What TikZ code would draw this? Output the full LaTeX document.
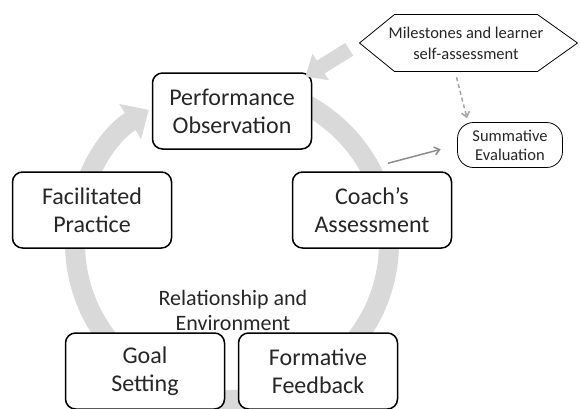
\documentclass[tikz,border=0pt]{standalone}
\usepackage{fontspec}
\setmainfont{Carlito}
\usetikzlibrary{arrows.meta}
\definecolor{ringgray}{RGB}{217,217,217}
\definecolor{inkgray}{RGB}{38,38,38}
\definecolor{arrowgray}{RGB}{140,140,140}

\begin{document}
\begin{tikzpicture}[x=1pt,y=1pt,
    stage/.style={draw, line width=1.5pt, rounded corners=10pt, fill=white, align=center,
      minimum width=159pt, minimum height=76pt, text=inkgray, font=\fontsize{24}{28}\selectfont},
    small/.style={align=center, text=inkgray, font=\fontsize{16.5}{21}\selectfont}]
      \useasboundingbox (0,0) rectangle (580,408);
      % Cycle behind the boxes
      \coordinate (c) at (232,165);
      \draw[ringgray, line width=20pt, -{Triangle[width=40pt,length=22pt]}]
        (c) ++(0,157) arc[start angle=90, end angle=-238, radius=157];
      % Define nodes
      \node[stage] (po) at (232,297) {Performance\\Observation};
      \node[stage] (fp) at (92,198)  {Facilitated\\Practice};
      \node[stage] (ca) at (372,198) {Coach’s\\Assessment};
      \node[stage] (gs) at (145,37)  {Goal\\Setting};
      \node[stage] (ff) at (318,37)  {Formative\\Feedback};
      \node[text=inkgray, align=center, font=\fontsize{22}{25}\selectfont] (re) at (233,98) {Relationship and\\Environment};
      \node[small, inner sep=0pt] (ms) at (466,365) {Milestones and learner\\self-assessment};
      \draw[line width=0.8pt] (ms.center) ++(-71.5,28.5) -- ++(143,0) -- ++(40,-28.5)
        -- ++(-40,-28.5) -- ++(-143,0) -- ++(-35,28.5) -- cycle;
      \coordinate (hl) at ([xshift=-106.5pt]ms.center);
      \coordinate (hb) at ([shift={(-11pt,-28.5pt)}]ms.center);
      \node[small, draw, line width=0.8pt, rounded corners=16pt, minimum width=105pt,
        minimum height=45pt, inner sep=1pt, font=\fontsize{16.5}{19}\selectfont] (se) at (510,263)
        {Summative\\Evaluation};
      % Connect nodes
      \draw[ringgray, line width=15pt, shorten <=12pt, shorten >=-8pt,
        -{Triangle[width=30pt,length=18pt]}] (hl) -- (po.north east);
      \draw[arrowgray!80, line width=1.5pt, dash pattern=on 4pt off 3pt, shorten <=6pt, shorten >=4pt,
        -{Straight Barb[length=5pt,width=8pt]}] (hb) -- ([xshift=-42pt]se.north);
      \draw[arrowgray, line width=1.5pt, shorten >=17pt,
        -{Straight Barb[length=5pt,width=8pt]}] ([shift={(16pt,8pt)}]ca.north) -- (se.west);
\end{tikzpicture}
\end{document}
